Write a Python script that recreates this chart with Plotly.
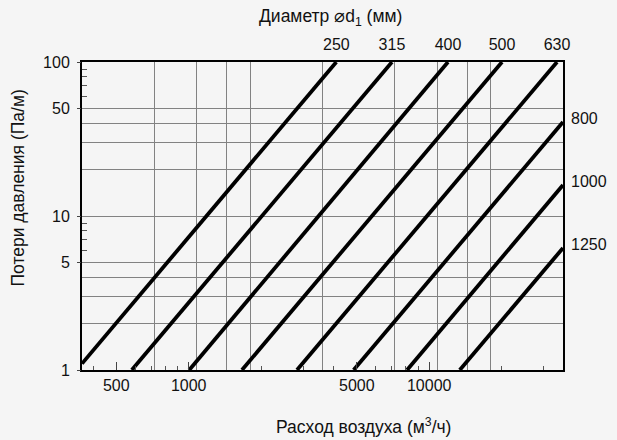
import math
import plotly.graph_objects as go

# Duct diameters (mm) and straight-line end points
DIAMETERS = ["250", "315", "400", "500", "630", "800", "1000", "1250"]
FLOW_START = [360, 580, 1005, 1665, 2820, 4850, 8090, 13400]     # m3/h
LOSS_START = [1.1, 1, 1, 1, 1, 1, 1, 1]                          # Pa/m
FLOW_END = [4110, 7000, 11970, 20080, 34000, 36000, 36000, 36000]
LOSS_END = [100, 100, 100, 100, 100, 40.8, 15.9, 6.2]

# axes
X_RANGE = [360, 36000]
Y_RANGE = [1, 100]
X_GRID = [720, 1080, 1440, 1800, 3600, 7200, 10800, 14400, 18000]
Y_GRID = [2, 3, 4, 5, 10, 20, 30, 40, 50]
X_TICKS = [500, 1000, 5000, 10000]
X_MINOR = [400, 600, 700, 800, 900, 2000, 3000, 4000, 6000, 7000, 8000, 9000, 20000, 30000]
Y_TICKS = [1, 5, 10, 50, 100]
Y_MINOR = [6, 7, 8, 9, 60, 70, 80, 90]

FONT = "Liberation Sans, Arial, sans-serif"
BG = "#f5f5f5"
INK = "#111111"

fig = go.Figure()

# the loss lines sit on the main axes, above its grid
for i, name in enumerate(DIAMETERS):
    fig.add_trace(go.Scatter(
        x=[FLOW_START[i], FLOW_END[i]],
        y=[LOSS_START[i], LOSS_END[i]],
        mode="lines",
        line=dict(color="black", width=3.8),
        name=name,
        showlegend=False,
        hoverinfo="skip",
    ))

# labels of lines ending on the top edge (on the tick overlay axes);
# the invisible marker only sets the gap between the end point and the text
top = [i for i in range(len(DIAMETERS)) if LOSS_END[i] >= Y_RANGE[1]]
fig.add_trace(go.Scatter(
    x=[FLOW_END[i] for i in top], y=[LOSS_END[i] for i in top],
    text=[DIAMETERS[i] for i in top], mode="markers+text",
    textposition="top center", marker=dict(size=11, opacity=0),
    textfont=dict(size=16, color=INK), cliponaxis=False,
    xaxis="x2", yaxis="y2", showlegend=False, hoverinfo="skip",
))

log_x = [math.log10(v) for v in X_RANGE]
log_y = [math.log10(v) for v in Y_RANGE]

grid_style = dict(
    type="log", showgrid=True, gridcolor="#828282", gridwidth=1.2,
    showticklabels=False, ticks="", zeroline=False,
    showline=True, linecolor="black", linewidth=2, mirror=True,
)

fig.update_layout(
    width=617, height=440,
    margin=dict(l=82, r=54, t=62, b=70),
    paper_bgcolor=BG, plot_bgcolor=BG,
    font=dict(family=FONT, size=16, color=INK),
    xaxis=dict(range=log_x, tickmode="array", tickvals=X_GRID, **grid_style),
    yaxis=dict(range=log_y, tickmode="array", tickvals=Y_GRID, **grid_style),
    xaxis2=dict(
        type="log", range=log_x, overlaying="x", anchor="y2", side="bottom",
        tickmode="array", tickvals=X_TICKS, ticktext=[str(v) for v in X_TICKS],
        ticks="inside", ticklen=8, tickwidth=1.3, tickcolor="#444",
        ticklabelstandoff=4,
        minor=dict(tickmode="array", tickvals=X_MINOR, ticks="inside",
                   ticklen=4, tickwidth=1.2, tickcolor="#555", showgrid=False),
        showgrid=False, zeroline=False, showline=False,
    ),
    yaxis2=dict(
        type="log", range=log_y, overlaying="y", anchor="x2", side="left",
        tickmode="array", tickvals=Y_TICKS, ticktext=[str(v) for v in Y_TICKS],
        ticks="outside", ticklen=4, tickwidth=1.3, tickcolor="#444",
        ticklabelstandoff=4,
        minor=dict(tickmode="array", tickvals=Y_MINOR, ticks="inside",
                   ticklen=5, tickwidth=1.2, tickcolor="#555", showgrid=False),
        showgrid=False, zeroline=False, showline=False,
    ),
)

# labels of lines ending on the right edge
for i, name in enumerate(DIAMETERS):
    if LOSS_END[i] < Y_RANGE[1]:
        fig.add_annotation(x=math.log10(FLOW_END[i]), y=math.log10(LOSS_END[i]),
                           xref="x", yref="y", text=name, showarrow=False,
                           xanchor="left", yanchor="middle", xshift=6, yshift=3,
                           font=dict(size=16, color=INK))

# titles
fig.add_annotation(x=0.516, y=1.145, xref="paper", yref="paper",
                   text="Диаметр ⌀d<sub>1</sub> (мм)", showarrow=False,
                   font=dict(size=17.5), xanchor="center", yanchor="middle")
fig.add_annotation(x=0.586, y=-0.182, xref="paper", yref="paper",
                   text="Расход воздуха (м<sup>3</sup>/ч)", showarrow=False,
                   font=dict(size=17.5), xanchor="center", yanchor="middle")
fig.add_annotation(x=-0.134, y=0.591, xref="paper", yref="paper",
                   text="Потери давления (Па/м)", showarrow=False, textangle=-90,
                   font=dict(size=17.5), xanchor="center", yanchor="middle")

# drop the default 8px page margin so the 617x440 figure fills the window
fig.write_html("out.html",
               config={"displayModeBar": False},
               post_script="document.body.style.margin='0';"
                           "document.body.style.background='" + BG + "';")
